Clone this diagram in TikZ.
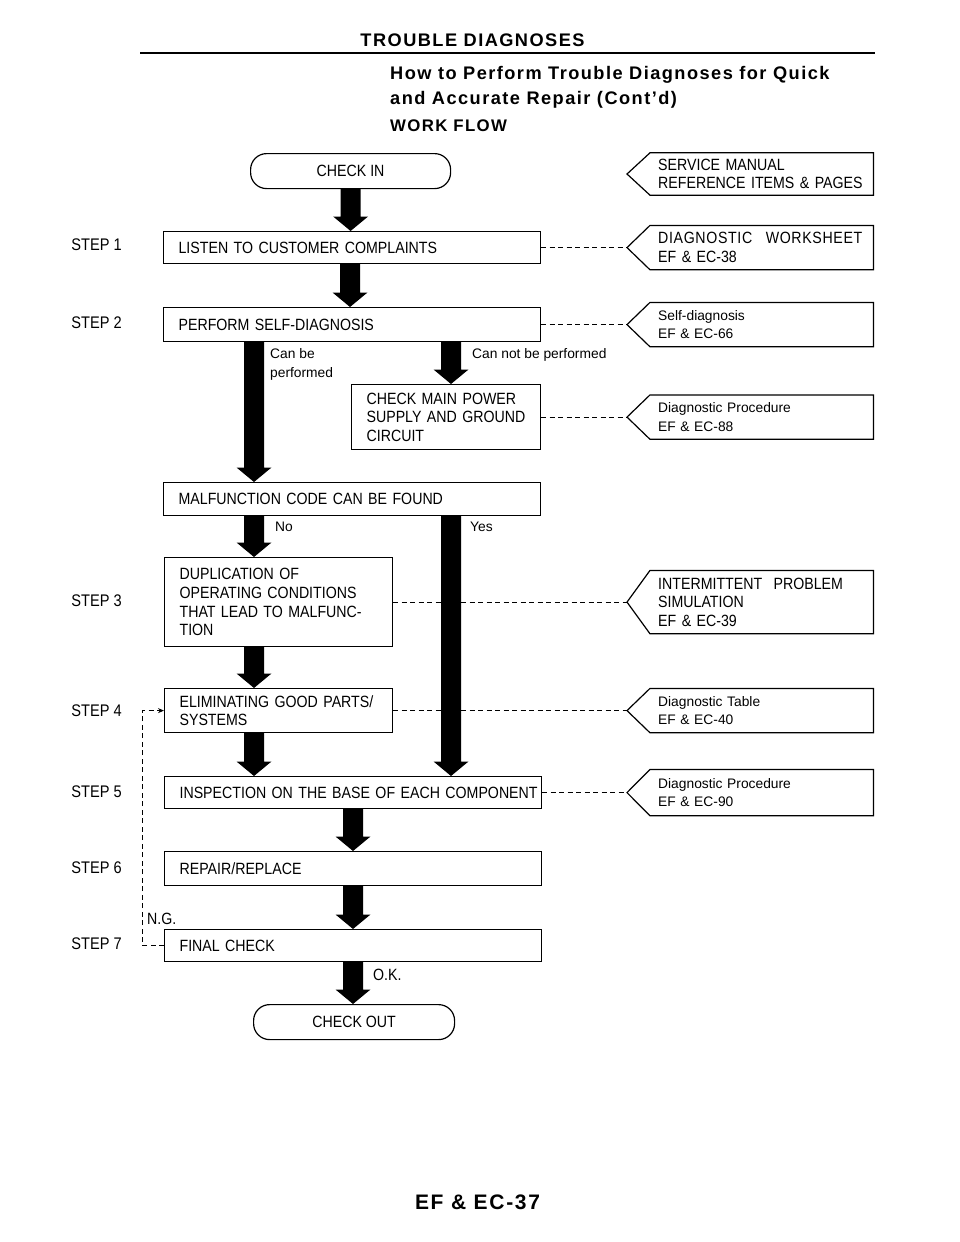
\documentclass[tikz,border=0pt]{standalone}
\usepackage{fontspec}
\setmainfont{Liberation Sans}
\newfontfamily\mainf[FakeStretch=0.87]{Liberation Sans}
\newfontfamily\mainfw[FakeStretch=0.87,LetterSpace=4]{Liberation Sans}
\newfontfamily\smallf{Liberation Sans}
\newfontfamily\headf[LetterSpace=8]{Liberation Sans}
\usetikzlibrary{calc,arrows.meta}
\newcommand{\msz}{\fontsize{16.3}{18.7}\selectfont}
\newcommand{\ssz}{\fontsize{13.8}{18.7}\selectfont}
\newcommand{\barrow}[2]{\fill let \p1=#1, \p2=#2 in (\x1-10pt,\y1) -- (\x1+10pt,\y1) -- (\x1+10pt,\y2+14.5pt) -- (\x1+17.5pt,\y2+14.5pt) -- (\x1,\y2) -- (\x1-17.5pt,\y2+14.5pt) -- (\x1-10pt,\y2+14.5pt) -- cycle;}
\tikzset{
 boxline/.style={line width=1.2pt},
 mainbox/.style={draw, boxline, rectangle, anchor=north west, inner xsep=15pt, inner ysep=0pt, align=left, font=\mainf\msz},
 termbox/.style={draw, boxline, rounded corners=16pt, anchor=north west, inner sep=0pt, align=center, font=\mainf\msz},
 refbox/.style={rectangle, anchor=west, inner xsep=8pt, inner ysep=0pt, align=left, minimum width=223pt, text width=207pt},
 dashline/.style={line width=0.9pt, dash pattern=on 5pt off 3.5pt},
 lbl/.style={anchor=west, inner sep=0pt, font=\smallf\ssz},
 mlbl/.style={anchor=west, inner sep=0pt, font=\mainf\msz},
 steplbl/.style={anchor=east, inner sep=0pt, font=\mainf\fontsize{16.8}{18.7}\selectfont},
 headtxt/.style={inner sep=0pt, font=\headf\bfseries\fontsize{18.2}{20}\selectfont},
}
% name, centre point, height, font, text
\newcommand{\refb}[5]{%
 \node[refbox, minimum height=#3pt, font=#4] (#1) at #2 {#5};
 \draw[boxline] (#1.north west) -- (#1.north east) -- (#1.south east) -- (#1.south west) -- ($(#1.west)+(-23,0)$) coordinate (#1tip) -- cycle;}
\begin{document}
\begin{tikzpicture}[x=1pt,y=-1pt]
\useasboundingbox (0,0) rectangle (960,1242);
\fill[white] (0,0) rectangle (960,1242);

% header
\node[headtxt] (title) at (472.5,40) {TROUBLE DIAGNOSES};
\draw[line width=2.5pt] (140,53) -- (875,53);
\node[headtxt, anchor=west] (h1) at (390,75) {How to Perform Trouble Diagnoses for Quick};
\node[headtxt, anchor=west] (h2) at (390,100) {and Accurate Repair (Cont’d)};
\node[headtxt, anchor=west, font=\headf\bfseries\fontsize{16.8}{20}\selectfont] (h3) at (390,126) {WORK FLOW};

% coordinates for arrow columns
\coordinate (ax) at (350,0);
\coordinate (bx) at (353,0);
\coordinate (lx) at (254,0);
\coordinate (rx) at (451,0);
\coordinate (lp) at (142,0);
\coordinate (rbx) at (650,0);

% terminals and boxes
\node[termbox, minimum width=200pt, minimum height=35pt] (checkin) at (250,153) {CHECK IN};
\node[mainbox, minimum width=377pt, text width=347pt, minimum height=32pt] (listen) at (163,231) {LISTEN TO CUSTOMER COMPLAINTS};
\node[mainbox, minimum width=377pt, text width=347pt, minimum height=34pt] (perform) at (163,307) {PERFORM SELF-DIAGNOSIS};
\node[mainbox, minimum width=189pt, text width=159pt, minimum height=65pt] (power) at (351,384) {\mbox{CHECK MAIN POWER}\\\mbox{SUPPLY AND GROUND}\\CIRCUIT};
\node[mainbox, minimum width=377pt, text width=347pt, minimum height=33pt] (malf) at (163,482) {MALFUNCTION CODE CAN BE FOUND};
\node[mainbox, minimum width=228pt, text width=198pt, minimum height=89pt] (dup) at (164,557) {\mbox{DUPLICATION OF}\\\mbox{OPERATING CONDITIONS}\\\mbox{THAT LEAD TO MALFUNC-}\\TION};
\node[mainbox, minimum width=228pt, text width=198pt, minimum height=44pt] (elim) at (164,688) {\mbox{ELIMINATING GOOD PARTS/}\\SYSTEMS};
\node[mainbox, minimum width=377pt, text width=347pt, minimum height=32pt] (insp) at (164,776) {\mbox{INSPECTION ON THE BASE OF EACH COMPONENT}};
\node[mainbox, minimum width=377pt, text width=347pt, minimum height=34pt] (repair) at (164,851) {REPAIR/REPLACE};
\node[mainbox, minimum width=377pt, text width=347pt, minimum height=32pt] (final) at (164,929) {FINAL CHECK};
\node[termbox, minimum width=201pt, minimum height=35pt] (checkout) at (253,1004) {CHECK OUT};

% reference boxes
\refb{rzero}{(650,174)}{42}{\mainf\msz}{SERVICE MANUAL\\REFERENCE ITEMS \& PAGES}
\refb{rone}{(listen.east -| rbx)}{44}{\mainf\msz}{{\mainfw DIAGNOSTIC\hspace{8pt} WORKSHEET}\\EF \& EC-38}
\refb{rtwo}{(perform.east -| rbx)}{44}{\smallf\ssz}{Self-diagnosis\\EF \& EC-66}
\refb{rthree}{(power.east -| rbx)}{44}{\smallf\ssz}{Diagnostic Procedure\\EF \& EC-88}
\refb{rfour}{(dup.east -| rbx)}{63}{\mainf\msz}{INTERMITTENT\hspace{6pt} PROBLEM\\SIMULATION\\EF \& EC-39}
\refb{rfive}{(elim.east -| rbx)}{44}{\smallf\ssz}{Diagnostic Table\\EF \& EC-40}
\refb{rsix}{(insp.east -| rbx)}{46}{\smallf\ssz}{Diagnostic Procedure\\EF \& EC-90}

% dashed connectors
\draw[dashline] (listen.east) -- (ronetip);
\draw[dashline] (perform.east) -- (rtwotip);
\draw[dashline] (power.east) -- (rthreetip);
\draw[dashline] (dup.east) -- (rfourtip);
\draw[dashline] (elim.east) -- (rfivetip);
\draw[dashline] (insp.east) -- (rsixtip);
\draw[dashline, -{Stealth[length=6pt,width=5pt]}] (final.west) -- (final.west -| lp) -- (elim.west -| lp) -- (elim.west);

% block arrows
\barrow{(checkin.south)}{(listen.north)}
\barrow{(listen.south -| ax)}{(perform.north -| ax)}
\barrow{(perform.south -| lx)}{(malf.north -| lx)}
\barrow{(perform.south -| rx)}{(power.north -| rx)}
\barrow{(malf.south -| lx)}{(dup.north -| lx)}
\barrow{(dup.south -| lx)}{(elim.north -| lx)}
\barrow{(elim.south -| lx)}{(insp.north -| lx)}
\barrow{(malf.south -| rx)}{(insp.north -| rx)}
\barrow{(insp.south -| bx)}{(repair.north -| bx)}
\barrow{(repair.south -| bx)}{(final.north -| bx)}
\barrow{(final.south -| bx)}{(checkout.north -| bx)}

% labels
\node[lbl, align=left] (canbe) at (270,364.5) {Can be\\performed};
\node[lbl] (cannot) at (472,355) {Can not be performed};
\node[lbl] (no) at (275,527) {No};
\node[lbl] (yes) at (470,527) {Yes};
\node[mlbl] (ng) at (147,919) {N.G.};
\node[mlbl] (ok) at (373,975) {O.K.};

% steps
\node[steplbl] (s1) at (122,245) {STEP 1};
\node[steplbl] (s2) at (122,323) {STEP 2};
\node[steplbl] (s3) at (122,601) {STEP 3};
\node[steplbl] (s4) at (122,711) {STEP 4};
\node[steplbl] (s5) at (122,792) {STEP 5};
\node[steplbl] (s6) at (122,868) {STEP 6};
\node[steplbl] (s7) at (122,944) {STEP 7};

% footer
\node[headtxt, font=\headf\bfseries\fontsize{21}{24}\selectfont] (foot) at (477.5,1202) {EF \& EC-37};
\end{tikzpicture}
\end{document}
